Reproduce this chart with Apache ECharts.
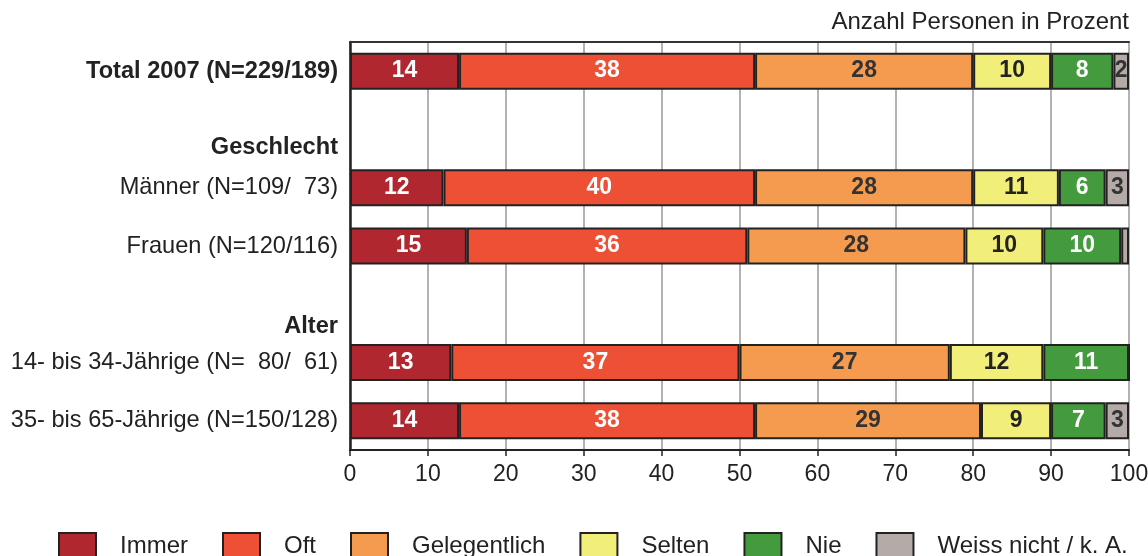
<!DOCTYPE html>
<html>
<head>
<meta charset="utf-8">
<script src="https://cdn.jsdelivr.net/npm/echarts@6/dist/echarts.min.js"></script>
<style>
  html, body { margin: 0; padding: 0; background: #fff; }
  #chart { width: 1148px; height: 556px; }
</style>
</head>
<body>
<div id="chart"></div>
<script>
// rows top to bottom, header rows carry no bars
const categories = [
  'Total 2007 (N=229/189)',
  'Geschlecht',
  'Männer (N=109/  73)',
  'Frauen (N=120/116)',
  'Alter',
  '14- bis 34-Jährige (N=  80/  61)',
  '35- bis 65-Jährige (N=150/128)'
]
const boldRows = ['Total 2007 (N=229/189)']

const seriesNames = ['Immer', 'Oft', 'Gelegentlich', 'Selten', 'Nie', 'Weiss nicht / k. A.']
const immer = [14, null, 12, 15, null, 13, 14]
const oft = [38, null, 40, 36, null, 37, 38]
const gelegentlich = [28, null, 28, 28, null, 27, 29]
const selten = [10, null, 11, 10, null, 12, 9]
const nie = [8, null, 6, 10, null, 11, 7]
const weissNicht = [2, null, 3, 1, null, 0, 3]

const xTicks = [0, 10, 20, 30, 40, 50, 60, 70, 80, 90, 100]

const colors = ['#b0272f', '#ee5035', '#f59b50', '#f2ee7a', '#449b3e', '#b4aba8']
const labelColors = ['#fff', '#fff', '#333', '#222', '#fff', '#333']

const fontFamily = '"Liberation Sans", Arial, Helvetica, sans-serif'

let chartDom = document.getElementById('chart')
let myChart = echarts.init(chartDom)

function makeSeries(name, values, i) {
  return {
    name: name,
    type: 'bar',
    stack: 'total',
    barWidth: 37,
    data: values,
    itemStyle: {
      color: colors[i],
      borderColor: '#222',
      borderWidth: 2
    },
    label: {
      show: true,
      position: 'inside',
      color: labelColors[i],
      fontFamily: fontFamily,
      fontSize: 23,
      fontWeight: 'bold',
      formatter: p => (p.value >= 2 ? p.value : '')
    }
  }
}

let option = {
  animation: false,
  textStyle: { fontFamily: fontFamily },
  title: {
    text: 'Anzahl Personen in Prozent',
    right: 19,
    top: 10,
    padding: 0,
    textStyle: { fontSize: 24, fontWeight: 'normal', color: '#222', fontFamily: fontFamily }
  },
  legend: {
    data: seriesNames,
    left: 58,
    top: 532,
    padding: 0,
    itemWidth: 37,
    itemHeight: 26,
    itemGap: 34,
    icon: 'rect',
    itemStyle: { borderColor: '#222', borderWidth: 2 },
    textStyle: { fontSize: 24, color: '#222', fontFamily: fontFamily, padding: [0, 0, 0, 19] }
  },
  grid: {
    left: 350,
    right: 19,
    top: 42,
    bottom: 106,
    containLabel: false,
    outerBoundsMode: 'none'
  },
  xAxis: [
    {
      type: 'value',
      min: 0,
      max: 100,
      interval: 10,
      axisLine: { show: true, lineStyle: { color: '#222', width: 2 } },
      axisTick: { show: true, length: 6, lineStyle: { color: '#222', width: 1.5 } },
      axisLabel: {
        color: '#222',
        fontSize: 23,
        margin: 13,
        fontFamily: fontFamily,
        formatter: v => (xTicks.indexOf(v) >= 0 ? String(v) : '')
      },
      splitLine: { show: true, lineStyle: { color: '#999', width: 1.5 } }
    },
    {
      type: 'value',
      position: 'top',
      min: 0,
      max: 100,
      interval: 10,
      axisLine: { show: true, lineStyle: { color: '#333', width: 2 } },
      axisTick: { show: false },
      axisLabel: { show: false },
      splitLine: { show: false }
    }
  ],
  yAxis: {
    type: 'category',
    inverse: true,
    data: categories,
    axisLine: { show: true, lineStyle: { color: '#222', width: 2.5 } },
    axisTick: { show: false },
    axisLabel: {
      margin: 12,
      fontSize: 23.6,
      color: '#222',
      fontFamily: fontFamily,
      formatter: v => {
        if (v === 'Geschlecht') return '{head1|' + v + '}'
        if (v === 'Alter') return '{head2|' + v + '}'
        if (boldRows.indexOf(v) >= 0) return '{bold|' + v + '}'
        return v
      },
      rich: {
        bold: { fontSize: 23.6, fontWeight: 'bold', color: '#222', fontFamily: fontFamily },
        head1: { fontSize: 23.6, fontWeight: 'bold', color: '#222', fontFamily: fontFamily, padding: [36, 0, 0, 0] },
        head2: { fontSize: 23.6, fontWeight: 'bold', color: '#222', fontFamily: fontFamily, padding: [44, 0, 0, 0] }
      }
    }
  },
  series: [
    makeSeries(seriesNames[0], immer, 0),
    makeSeries(seriesNames[1], oft, 1),
    makeSeries(seriesNames[2], gelegentlich, 2),
    makeSeries(seriesNames[3], selten, 3),
    makeSeries(seriesNames[4], nie, 4),
    makeSeries(seriesNames[5], weissNicht, 5)
  ]
}

option && myChart.setOption(option)
</script>
</body>
</html>
